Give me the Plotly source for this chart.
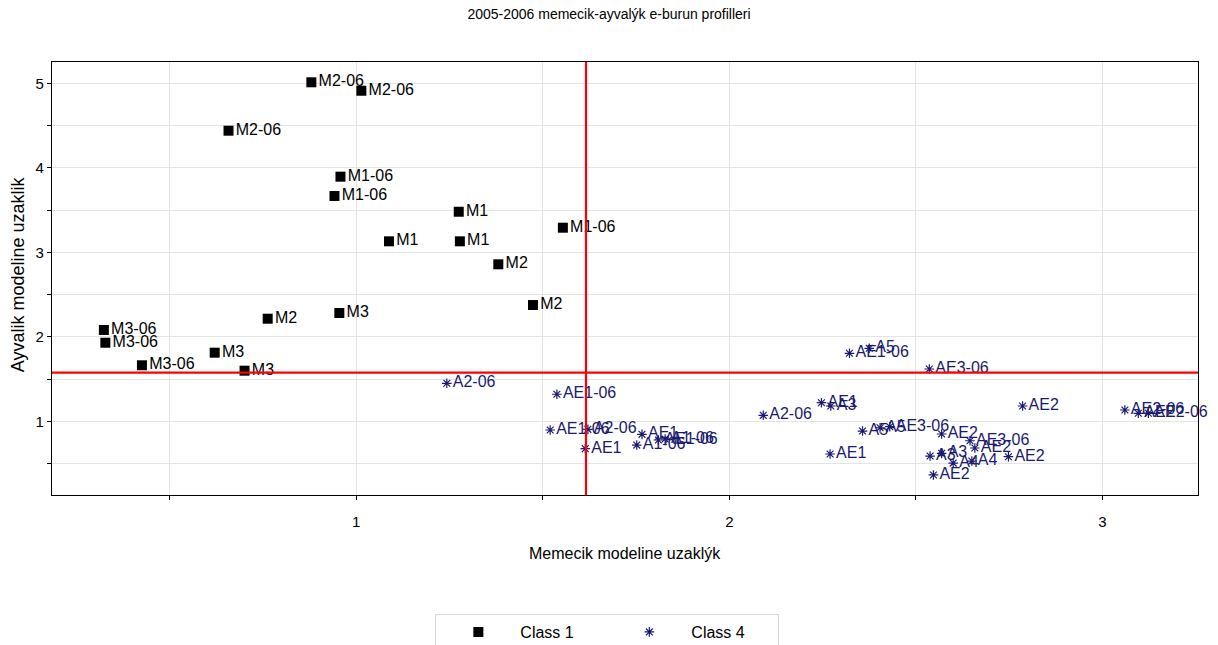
import plotly.graph_objects as go

# Class 1 profiles (Memecik samples)
class1_labels = ["M2-06", "M2-06", "M2-06", "M1-06", "M1-06", "M1-06",
                 "M1", "M1", "M1", "M2", "M2", "M2",
                 "M3", "M3", "M3", "M3-06", "M3-06", "M3-06"]
class1_x = [0.880, 1.014, 0.658, 0.958, 0.942, 1.554,
            1.088, 1.275, 1.278, 1.381, 1.474, 0.763,
            0.955, 0.621, 0.701, 0.324, 0.328, 0.426]
class1_y = [5.012, 4.912, 4.439, 3.895, 3.666, 3.291,
            3.130, 3.480, 3.130, 2.858, 2.376, 2.214,
            2.282, 1.812, 1.599, 2.081, 1.930, 1.663]

# Class 4 profiles (Ayvalik samples)
class4_labels = ["A2-06", "AE1-06", "AE1-06", "A2-06", "AE1", "AE1",
                 "A1-06", "AE1-06", "A1-06", "A2-06", "AE1", "A3",
                 "AE1", "AE1-06", "A5", "AE3-06", "AE2", "AE2-06",
                 "AE2", "AE2-06", "A5", "A5", "AE3-06", "AE2",
                 "AE3-06", "A3", "A3", "A4", "AE2", "A4", "AE2", "AE2"]
class4_x = [1.243, 1.538, 1.520, 1.621, 1.614, 1.766,
            1.752, 1.810, 1.828, 2.091, 2.247, 2.272,
            2.270, 2.322, 2.375, 2.536, 2.786, 3.060,
            3.096, 3.123, 2.357, 2.404, 2.430, 2.569,
            2.645, 2.538, 2.569, 2.600, 2.658, 2.650, 2.748, 2.547]
class4_y = [1.450, 1.320, 0.897, 0.905, 0.676, 0.846,
            0.719, 0.779, 0.791, 1.071, 1.220, 1.181,
            0.613, 1.805, 1.864, 1.619, 1.181, 1.134,
            1.095, 1.095, 0.885, 0.924, 0.936, 0.850,
            0.770, 0.589, 0.621, 0.506, 0.684, 0.530, 0.581, 0.365]

# Reference thresholds drawn as red cross-hair lines
x_threshold = 1.616
y_threshold = 1.575

x_range = [0.185, 3.256]
y_range = [0.128, 5.252]
x_ticks = [0.5, 1, 1.5, 2, 2.5, 3]
x_ticktext = ["", "1", "", "2", "", "3"]
y_ticks = [0.5, 1, 1.5, 2, 2.5, 3, 3.5, 4, 4.5, 5]
y_ticktext = ["", "1", "", "2", "", "3", "", "4", "", "5"]

FONT = "Liberation Sans, Arial, sans-serif"
NAVY = "#1a1a6e"

fig = go.Figure()

fig.add_trace(go.Scatter(
    x=class1_x, y=class1_y, text=class1_labels,
    mode="markers+text", textposition="middle right",
    name="Class 1",
    marker=dict(symbol="square", size=10, color="black"),
    textfont=dict(family=FONT, size=16, color="black"),
    cliponaxis=False,
))

fig.add_trace(go.Scatter(
    x=class4_x, y=class4_y, text=class4_labels,
    mode="markers+text", textposition="middle right",
    name="Class 4",
    marker=dict(symbol="asterisk-open", size=8, color=NAVY,
                line=dict(color=NAVY, width=1.2)),
    textfont=dict(family=FONT, size=16, color=NAVY),
    cliponaxis=False,
))

fig.add_shape(type="line", xref="x", yref="paper",
              x0=x_threshold, x1=x_threshold, y0=0, y1=1,
              line=dict(color="red", width=2.2))
fig.add_shape(type="line", xref="paper", yref="y",
              x0=0, x1=1, y0=y_threshold, y1=y_threshold,
              line=dict(color="red", width=2.2))

axis_common = dict(
    showgrid=True, gridcolor="#e4e4e4", gridwidth=1,
    zeroline=False, showline=True, linecolor="black", linewidth=1.2,
    mirror=True, ticks="outside", ticklen=4, tickcolor="black",
    tickfont=dict(family=FONT, size=15, color="black"),
    automargin=False,
)

fig.update_xaxes(range=x_range, tickmode="array", tickvals=x_ticks,
                 ticktext=x_ticktext, ticklabelstandoff=9, **axis_common)
fig.update_yaxes(range=y_range, tickmode="array", tickvals=y_ticks,
                 ticktext=y_ticktext, **axis_common)

fig.update_layout(
    width=1218, height=645,
    margin=dict(l=52, r=20, t=62, b=150, autoexpand=False),
    paper_bgcolor="white", plot_bgcolor="white",
    font=dict(family=FONT, color="black"),
    title=dict(text="2005-2006 memecik-ayvalýk e-burun profilleri",
               x=0.5, xanchor="center", y=1 - 14 / 645, yanchor="middle",
               font=dict(family=FONT, size=14, color="black")),
    showlegend=True,
    legend=dict(orientation="h", x=0.4846, xanchor="center",
                yref="container", y=(645 - 614) / 645, yanchor="top",
                bordercolor="#d8d8d8", borderwidth=1,
                itemwidth=74, entrywidth=82, entrywidthmode="pixels",
                font=dict(family=FONT, size=16, color="black")),
    annotations=[
        dict(text="Memecik modeline uzaklýk", xref="paper", yref="paper",
             x=0.5, y=-0.134, xanchor="center", yanchor="middle",
             showarrow=False, font=dict(family=FONT, size=16, color="black")),
        dict(text="Ayvalik modeline uzaklik", xref="paper", yref="paper",
             x=-0.0297, y=0.51, xanchor="center", yanchor="middle",
             textangle=-90, showarrow=False,
             font=dict(family=FONT, size=18, color="black")),
    ],
)

fig.write_html("out.html")
